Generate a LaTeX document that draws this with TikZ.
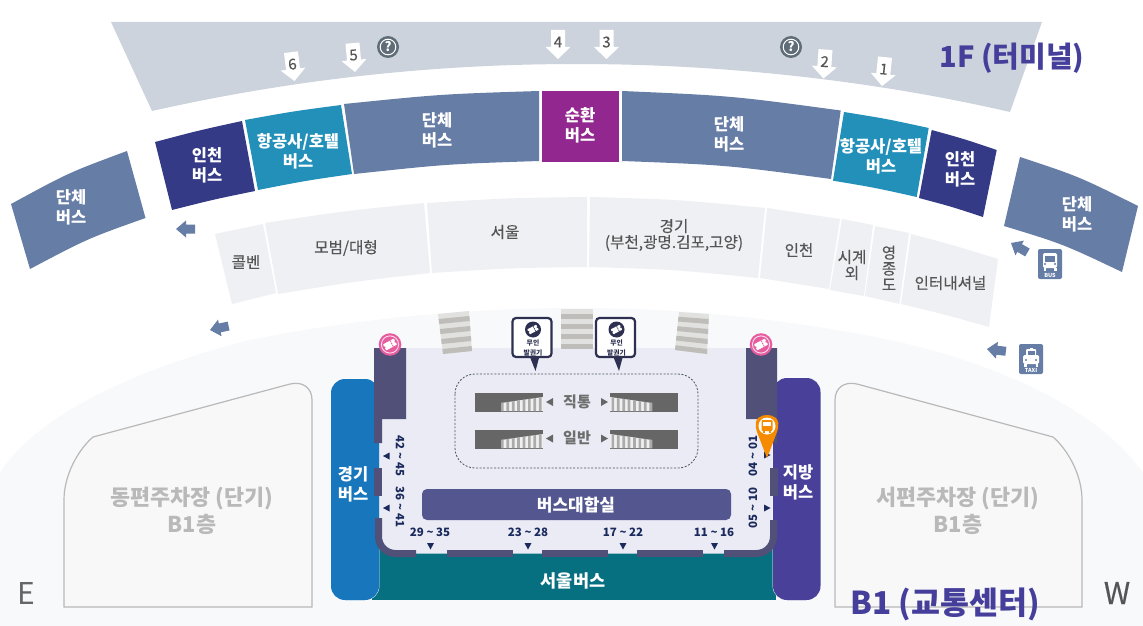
\documentclass[tikz,border=0pt]{standalone}
\usepackage{fontspec}
\setmainfont{Noto Sans CJK KR}
\newfontfamily\krm[FakeBold=0.3]{Noto Sans CJK KR}
\usetikzlibrary{calc}
\definecolor{gband}{HTML}{CDD3DC}
\definecolor{steel}{HTML}{667DA6}
\definecolor{navyb}{HTML}{343A86}
\definecolor{tealb}{HTML}{2390BA}
\definecolor{magb}{HTML}{92278F}
\definecolor{lightrow}{HTML}{EEF0F4}
\definecolor{bgsoft}{HTML}{F8F9FB}
\definecolor{lav}{HTML}{EAEBF4}
\definecolor{wallc}{HTML}{505078}
\definecolor{blueb}{HTML}{1776BC}
\definecolor{purpb}{HTML}{49409A}
\definecolor{seoul}{HTML}{077080}
\definecolor{hallc}{HTML}{54568F}
\definecolor{titlec}{HTML}{453F9B}
\definecolor{txtg}{HTML}{555555}
\definecolor{parkl}{HTML}{B9B9B9}
\definecolor{parkf}{HTML}{F8F8F9}
\definecolor{parkt}{HTML}{B9B9B9}
\definecolor{navyt}{HTML}{1B2A5C}
\definecolor{pinkc}{HTML}{E75C9F}
\definecolor{orangec}{HTML}{F68B00}
\definecolor{qc}{HTML}{5F6D78}
\definecolor{kiosk}{HTML}{2D3050}
\definecolor{stairg}{HTML}{666666}
\definecolor{strip}{HTML}{ABABAB}
\definecolor{cwd}{HTML}{BFBDB9}
\definecolor{cwl}{HTML}{E1E1DF}
\newcommand\fsz[2]{\fontsize{#1}{#2}\selectfont}
\newcommand\tld{{\char`\~}}
\tikzset{
  lbl/.style={inner sep=0pt,align=center,text=white,font=\fsz{16.5}{20}\bfseries},
  glbl/.style={inner sep=0pt,align=center,text=txtg,font=\krm\fsz{15.6}{16}},
  nlbl/.style={inner sep=0pt,text=navyt,font=\fsz{11.5}{12}\bfseries},
  parktxt/.style={inner sep=0pt,align=center,text=parkt,font=\fsz{21.8}{27}\bfseries},
  stairtxt/.style={inner sep=0pt,text=txtg!85,font=\fsz{15}{16}\bfseries},
  tri/.style={fill=navyt},
  gtri/.style={fill=stairg}
}
\newcommand\band[7]{\fill[#1] (#2) .. controls ($(#2)!.5!(#3)+(0,-#6)$) .. (#3) -- (#4) .. controls ($(#4)!.5!(#5)+(0,-#7)$) .. (#5) -- cycle;}
\newcommand\numarrow[4]{\begin{scope}[shift={(#1,#2)},rotate=#3]
  \fill[white] (0,0)--(-12.5,-12)--(-7,-12)--(-7,-29)--(7,-29)--(7,-12)--(12.5,-12)--cycle;
  \node[inner sep=0pt,text=txtg,font=\krm\fsz{15}{15},rotate=#3] (n#4) at (0,-17) {#4};
\end{scope}}
\newcommand\bluearrow[3]{\begin{scope}[shift={(#1,#2)},rotate=#3]
  \fill[steel] (0,0)--(10,-8.5)--(10,-4.5)--(19,-4.5)--(19,4.5)--(10,4.5)--(10,8.5)--cycle;
\end{scope}}
\newcommand\qmark[3]{\fill[qc] (#1,#2) circle (11);\draw[white,line width=1pt] (#1,#2) circle (7.8);
  \node[inner sep=0pt,text=white,font=\fsz{13}{13}\bfseries] (#3) at (#1,#2) {?};}
\newcommand\ticket[5]{\begin{scope}[shift={(#1,#2)},rotate=28,scale=#3]
  \fill[#4,rounded corners=.6] (-6.5,-3.6) rectangle (6.5,3.6);
  \fill[#5] (-6.5,0) circle (1.2);\fill[#5] (6.5,0) circle (1.2);
  \fill[#5] (1.6,-3.6) rectangle (2.5,-1.8);\fill[#5] (1.6,-.9) rectangle (2.5,.9);\fill[#5] (1.6,1.8) rectangle (2.5,3.6);
\end{scope}}
\newcommand\pinkcirc[2]{\fill[pinkc] (#1,#2) circle (11.3);\draw[white!80!pinkc,line width=.9pt] (#1,#2) circle (8.6);\ticket{#1}{#2}{.95}{white}{pinkc}}
\newcommand\escal[3]{\begin{scope}[shift={(#1,#2)},xscale=#3]
  \fill[stairg] (0,0) rectangle (68,19);
  \fill[white!88!gray] (26,10)--(68,4)--(68,18)--(26,18)--cycle;
  \foreach \i in {0,...,7}{\pgfmathsetmacro\xa{26+\i*5.4}\pgfmathsetmacro\xb{\xa+2.7}
    \pgfmathsetmacro\ya{10-(\xa-26)*6/42}\pgfmathsetmacro\yb{10-(\xb-26)*6/42}
    \fill[strip] (\xa,\ya)--(\xb,\yb)--(\xb,18)--(\xa,18)--cycle;}
\end{scope}}
\newcommand\crosswalk[8]{\coordinate (ca) at (#1,#2);\coordinate (cb) at (#3,#4);\coordinate (cc) at (#5,#6);\coordinate (cd) at (#7,#8);
  \fill[cwl] (ca)--(cb)--(cc)--(cd)--cycle;
  \foreach \t in {0.125,0.375,0.625,0.875}{\pgfmathsetmacro\u{\t+.125}
    \fill[cwd] ($(ca)!\t!(cd)$)--($(cb)!\t!(cc)$)--($(cb)!\u!(cc)$)--($(ca)!\u!(cd)$)--cycle;}}
\newcommand\kioskbox[2]{\begin{scope}[shift={(#1,#2)}]
  \fill[kiosk] (17,38)--(23,53)--(27,38)--cycle;
  \draw[kiosk,fill=white,line width=2.2pt,rounded corners=3.5] (0,0) rectangle (39,39);
  \fill[kiosk] (20.5,11.5) circle (8);
  \ticket{20.5}{11.5}{.78}{white}{kiosk}
  \node[inner sep=0pt,text=kiosk,font=\fsz{6.8}{10}\bfseries,align=center] at (20.5,29.5) {무인\\발권기};
\end{scope}}
\begin{document}
\begin{tikzpicture}[x=1pt,y=-1pt]
\useasboundingbox (0,0) rectangle (1143,626);
\fill[white] (0,0) rectangle (1143,626);
% soft ground
\fill[bgsoft] (0,473) .. controls (40,410) and (150,365) .. (250,340) .. controls (360,318) and (470,308) .. (577,308) .. controls (690,308) and (790,320) .. (890,340) .. controls (990,362) and (1095,405) .. (1143,473) -- (1143,626) -- (0,626) -- cycle;
% upper gray band
\fill[gband] (111,22) -- (1042,22) -- (1010,112) .. controls (880,82) and (730,64) .. (577,64) .. controls (430,64) and (290,80) .. (152,111) -- cycle;
% upper row
\band{steel}{11,204}{127,151}{145.5,218}{30,269}{5}{5}
\band{navyb}{155,142}{242,121}{255,191}{172,210}{1}{1}
\band{tealb}{245,120}{341,105}{352,174}{258,190}{1.2}{1.2}
\band{steel}{344,104}{539,91}{539,161}{354,174}{3.4}{3.4}
\fill[magb] (542,91) rectangle (619,161.5);
\band{steel}{622,91}{840.7,110.5}{831,179}{622,161}{5}{5}
\band{tealb}{844,112}{928.7,128}{916.7,197}{833,180.7}{1.2}{1.2}
\band{navyb}{931.7,130}{996.7,150}{983,217}{919,198}{1}{1}
\band{steel}{1020,157}{1138,206}{1122,272}{1004,226}{5}{5}
% lower row
\band{lightrow}{215,234}{263,224}{276,293}{232,304}{.5}{.5}
\band{lightrow}{265,223}{424,203}{430,273}{278,294}{2}{2}
\band{lightrow}{427,203}{587,197}{587,267}{432,273}{2}{2}
\band{lightrow}{590,197}{765,208}{758,278}{589,267}{3}{3}
\band{lightrow}{767,208}{840,219}{829,289}{760,278}{.5}{.5}
\band{lightrow}{842,219}{873,225}{864,296}{830,290}{0}{0}
\band{lightrow}{875,226}{909,233}{899.5,304}{865,296}{0}{0}
\band{lightrow}{911,234}{998,259}{989,327}{901,304}{1}{1}
% numbered arrows
\numarrow{294.5}{81}{7}{6}
\numarrow{355}{72}{5}{5}
\numarrow{558}{59}{0}{4}
\numarrow{606.5}{59}{0}{3}
\numarrow{823.5}{78.5}{-4}{2}
\numarrow{882}{86}{-6}{1}
\qmark{388}{47}{qa}
\qmark{791}{47}{qb}
% titles
\node[inner sep=0pt,text=titlec,font=\fsz{29}{30}\bfseries] (t1f) at (1012,58) {1F (터미널)};
% upper row text
\node[lbl] (a1) at (71,207) {단체\\버스};
\node[lbl] (a2) at (207,165) {인천\\버스};
\node[lbl] (a3) at (298,151) {항공사/호텔\\버스};
\node[lbl] (a4) at (437,130) {단체\\버스};
\node[lbl] (a5) at (580,125) {순환\\버스};
\node[lbl] (a6) at (729,134) {단체\\버스};
\node[lbl] (a7) at (881,156.5) {항공사/호텔\\버스};
\node[lbl] (a8) at (960,169) {인천\\버스};
\node[lbl] (a9) at (1077,214) {단체\\버스};
% lower row text
\node[glbl] (b1) at (246,262) {콜벤};
\node[glbl] (b2) at (346,248) {모범/대형};
\node[glbl] (b3) at (505,232) {서울};
\node[glbl] (b4) at (674,235) {경기\\(부천,광명.김포,고양)};
\node[glbl] (b5) at (799,250) {인천};
\node[glbl] (b6) at (852,265) {시계\\외};
\node[glbl] (b7) at (889,268) {영\\종\\도};
\node[glbl] (b8) at (950.5,283) {인터내셔널};
% blue arrows and icons
\bluearrow{176}{229}{0}
\bluearrow{210}{330}{12}
\bluearrow{1011}{243}{-30}
\bluearrow{987}{349}{-7}
\fill[steel,rounded corners=2] (1038,249) rectangle (1062,279);
\fill[white,rounded corners=2] (1043,253) rectangle (1057,268);
\fill[steel] (1045,256) rectangle (1055,261.5);
\fill[steel] (1045,264) circle (1.1);\fill[steel] (1055,264) circle (1.1);
\fill[white] (1043.5,268) rectangle (1046,270.5);\fill[white] (1054,268) rectangle (1056.5,270.5);
\node[inner sep=0pt,text=white,font=\fsz{5.5}{6}\bfseries] (ibus) at (1050,275) {BUS};
\fill[steel,rounded corners=2] (1019,344) rectangle (1043,374);
\fill[white,rounded corners=1.5] (1023,355) rectangle (1039,364);
\fill[white,rounded corners=1] (1026,349) rectangle (1036,356);
\fill[steel] (1027.5,351) rectangle (1034.5,355);
\fill[white] (1029.5,347.5) rectangle (1032.5,349);
\fill[steel] (1026,360) circle (1.1);\fill[steel] (1036,360) circle (1.1);
\fill[white] (1024,364) rectangle (1026.5,366.5);\fill[white] (1035.5,364) rectangle (1038,366.5);
\node[inner sep=0pt,text=white,font=\fsz{5.5}{6}\bfseries] (itaxi) at (1031,370) {TAXI};
% parking
\draw[parkl,fill=parkf,line width=1.2pt] (64,607) -- (64,500) .. controls (64,475) and (78,450) .. (93,437) -- (290,384) .. controls (303,381) and (312,388) .. (312,400) -- (312,607) -- cycle;
\draw[parkl,fill=parkf,line width=1.2pt] (835,607) -- (835,400) .. controls (835,388) and (844,381) .. (857,384) -- (1053,437) .. controls (1068,450) and (1082,475) .. (1082,500) -- (1082,607) -- cycle;
\node[parktxt] (p1) at (192,511) {동편주차장 (단기)\\B1층};
\node[parktxt] (p2) at (958,511) {서편주차장 (단기)\\B1층};
\node[inner sep=0pt,text=txtg!90,font=\fsz{30}{32}] (e) at (26,593) {E};
\node[inner sep=0pt,text=txtg,font=\krm\fsz{30}{32}] (w) at (1117,593) {W};
% building
\fill[seoul] (372,530) rectangle (776,600);
\fill[lav,rounded corners=18] (375,348) -- (777,348) -- (777,553.5) -- (375,553.5) -- cycle;
\fill[lav] (375,348) rectangle (777,400);
% crosswalks
\crosswalk{438}{314}{469}{311}{472}{351}{443}{354}
\crosswalk{561}{309}{593}{309}{593}{349}{561}{349}
\crosswalk{679}{312}{709}{314}{707}{354}{675}{350}
\draw[white,fill=blueb,line width=.8pt,rounded corners=14] (331,379) rectangle (379,600);
\draw[white,fill=purpb,line width=.8pt,rounded corners=14] (773,378) rectangle (820.5,600);
\fill[blueb,rounded corners=14] (331,379) rectangle (379,600);
\fill[purpb,rounded corners=14] (773,378) rectangle (820.5,600);
\node[lbl] (g1) at (353,484) {경기\\버스};
\node[lbl] (g2) at (798,482) {지방\\버스};
\node[inner sep=0pt,text=white,font=\fsz{17.5}{18}\bfseries] (s1) at (573,581) {서울버스};
% walls
\fill[wallc] (374,348) -- (406,348) -- (406,419) -- (382,419) -- (382,443) -- (374,443) -- cycle;
\fill[wallc] (374,468) rectangle (382,496);
\draw[wallc,line width=7pt,rounded corners=17] (378.5,518) -- (378.5,553.5) -- (416,553.5);
\fill[wallc] (447,550) rectangle (513,557);
\fill[wallc] (542,550) rectangle (608,557);
\fill[wallc] (637,550) rectangle (703,557);
\draw[wallc,line width=7pt,rounded corners=17] (724,553.5) -- (773.5,553.5) -- (773.5,520);
\fill[wallc] (746,348) -- (777,348) -- (777,443) -- (770,443) -- (770,419) -- (746,419) -- cycle;
\fill[wallc] (770,468) rectangle (778,496);
% inside
\fill[hallc,rounded corners=5] (422,489) rectangle (731,520);
\node[inner sep=0pt,text=white,font=\fsz{17}{18}\bfseries] (hall) at (576,505) {버스대합실};
\draw[qc!80!black,line width=.8pt,dash pattern=on 2pt off 1.6pt,rounded corners=20] (455,374) rectangle (698,468);
\escal{475}{393}{1}
\escal{475}{430}{1}
\escal{678}{393}{-1}
\escal{678}{430}{-1}
\foreach \y in {402,438.5}{
  \fill[gtri] (546,\y) -- (553,\y-4) -- (553,\y+4) -- cycle;
  \fill[gtri] (608,\y) -- (601,\y-4) -- (601,\y+4) -- cycle;}
\node[stairtxt] (st1) at (577,401.5) {직통};
\node[stairtxt] (st2) at (577,438) {일반};
\kioskbox{512.5}{318}
\kioskbox{596}{318}
\pinkcirc{390}{344.5}
\pinkcirc{761}{344.5}
% gates
\node[nlbl,rotate=-90] (n1) at (400,456) {42 \tld{} 45};
\node[nlbl,rotate=-90] (n2) at (400,507) {36 \tld{} 41};
\node[nlbl,rotate=90] (n3) at (753,456) {04 \tld{} 01};
\node[nlbl,rotate=90] (n4) at (753,508) {05 \tld{} 10};
\node[nlbl] (n5) at (430,532) {29 \tld{} 35};
\node[nlbl] (n6) at (528,532) {23 \tld{} 28};
\node[nlbl] (n7) at (623,532) {17 \tld{} 22};
\node[nlbl] (n8) at (714,532) {11 \tld{} 16};
\foreach \y in {456,508}{
  \fill[tri] (383,\y) -- (389.5,\y-3.5) -- (389.5,\y+3.5) -- cycle;}
\fill[tri] (770.5,508) -- (764,504.5) -- (764,511.5) -- cycle;
\fill[tri] (770.5,455) -- (764,451.5) -- (764,458.5) -- cycle;
\foreach \x in {430.5,528,623,714.5}{
  \fill[tri] (\x,549.5) -- (\x-3.5,543) -- (\x+3.5,543) -- cycle;}
% orange pin
\fill[orangec] (767,458) -- (757,432) .. controls (752,417) and (762,415) .. (767,415) .. controls (772,415) and (782,417) .. (777,432) -- cycle;
\fill[white] (767,426) circle (8.5);
\fill[orangec,rounded corners=1.2] (761.5,420) rectangle (772.5,431);
\fill[white] (763,422) rectangle (771,426);
\fill[orangec] (763,431) rectangle (765,432.5);\fill[orangec] (769,431) rectangle (771,432.5);
\node[inner sep=0pt,text=titlec,font=\fsz{31.5}{32}\bfseries] (tb1) at (945,604) {B1 (교통센터)};
\end{tikzpicture}
\end{document}
